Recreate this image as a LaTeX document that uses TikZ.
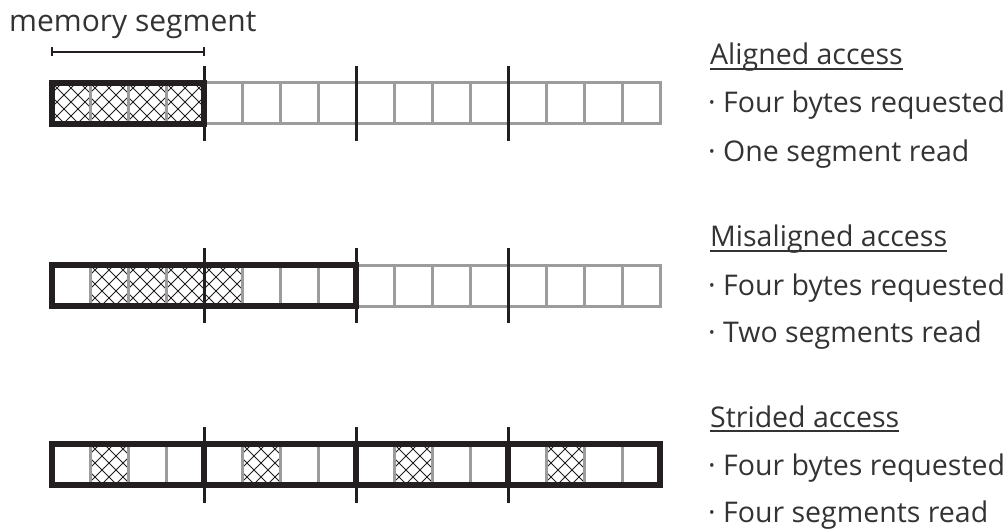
\documentclass[tikz,border=0pt]{standalone}
\usepackage{fontspec}
\setmainfont{Open Sans}
\usetikzlibrary{positioning}
\definecolor{inkblack}{HTML}{231F20}
\definecolor{cellgray}{HTML}{9C9C9C}
\definecolor{textgray}{HTML}{333333}

% one hatched byte cell, top left corner at (#1,#2)
\newcommand\hatchcell[2]{%
  \begin{scope}
    \clip (#1,#2) rectangle ++(38,41);
    \foreach \k in {-3,...,3}{
      \draw[hatchline] (#1+\k*14,#2) -- ++(41,41);
      \draw[hatchline] (#1+\k*14+38,#2) -- ++(-41,41);
    }
  \end{scope}}

\begin{document}
\begin{tikzpicture}[x=1pt,y=-1pt,
  cell/.style={draw=cellgray,line width=3pt},
  frame/.style={draw=inkblack,line width=6pt},
  tick/.style={draw=inkblack,line width=3pt},
  hatchline/.style={draw=inkblack,line width=1pt},
  uline/.style={draw=textgray,line width=1.2pt},
  txt/.style={anchor=base west,inner sep=0pt,text=textgray,font=\fontsize{28.5}{34}\selectfont}
]
\useasboundingbox (0,0) rectangle (1005,532);

% memory segment bracket
\node[txt,font=\fontsize{30}{36}\selectfont] (memlabel) at (9,32) {memory segment};
\coordinate (segL) at (52,52);
\coordinate (segR) at (204,52);
\draw[inkblack,line width=1.8pt] (segL) -- (segR);
\draw[inkblack,line width=1.8pt] ([yshift=4.5pt]segL) -- ([yshift=-4.5pt]segL);
\draw[inkblack,line width=1.8pt] ([yshift=4.5pt]segR) -- ([yshift=-4.5pt]segR);

% row 1: aligned
\foreach \i in {0,...,3} {\hatchcell{52+\i*38}{83}}
\foreach \i in {0,...,15} \draw[cell] (52+\i*38,83) rectangle ++(38,41);
\draw[frame] (52,83) rectangle (204,124);
\foreach \x in {204,356,508} \draw[tick] (\x,66) -- (\x,141);

% row 2: misaligned
\foreach \i in {1,...,4} {\hatchcell{52+\i*38}{265}}
\foreach \i in {0,...,15} \draw[cell] (52+\i*38,265) rectangle ++(38,41);
\draw[frame] (52,265) rectangle (356,306);
\foreach \x in {204,356,508} \draw[tick] (\x,248) -- (\x,323);

% row 3: strided
\foreach \i in {1,5,9,13} {\hatchcell{52+\i*38}{444}}
\foreach \i in {0,...,15} \draw[cell] (52+\i*38,444) rectangle ++(38,41);
\draw[frame] (52,444) rectangle (660,485);
\foreach \x in {204,356,508} {
  \draw[frame] (\x,444) -- (\x,485);
  \draw[tick] (\x,427) -- (\x,503);
}

% descriptions
\node[txt] (aligned) at (710,65) {Aligned access};
\node[txt] (aligned1) at (708,113) {· Four bytes requested};
\node[txt] (aligned2) at (708,162) {· One segment read};
\draw[uline] ([yshift=-4pt]aligned.base west) -- ([yshift=-4pt]aligned.base east);

\node[txt] (misaligned) at (710,247) {Misaligned access};
\node[txt] (misaligned1) at (708,295) {· Four bytes requested};
\node[txt] (misaligned2) at (708,342) {· Two segments read};
\draw[uline] ([yshift=-4pt]misaligned.base west) -- ([yshift=-4pt]misaligned.base east);

\node[txt] (strided) at (710,427) {Strided access};
\node[txt] (strided1) at (708,475) {· Four bytes requested};
\node[txt] (strided2) at (708,522) {· Four segments read};
\draw[uline] ([yshift=-4pt]strided.base west) -- ([yshift=-4pt]strided.base east);
\end{tikzpicture}
\end{document}
